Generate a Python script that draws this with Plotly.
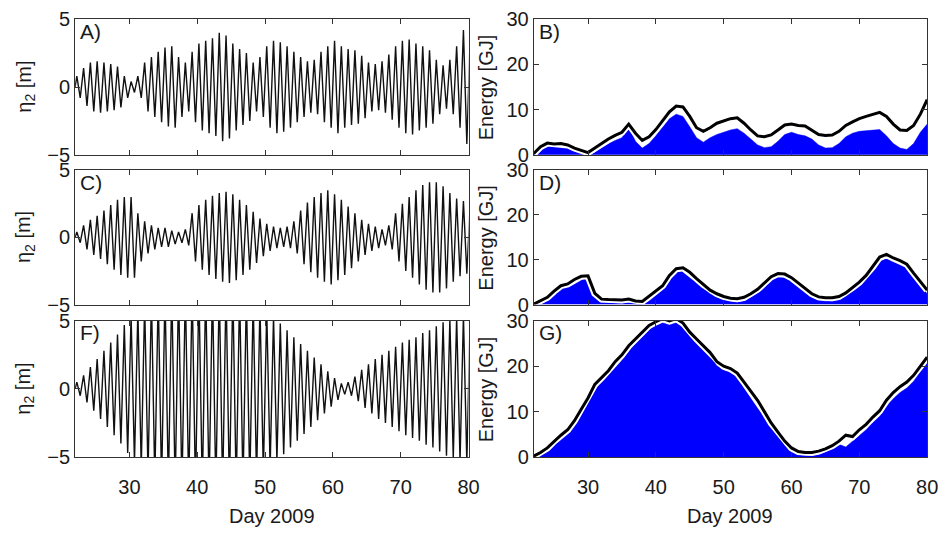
import plotly.graph_objects as go

# ---------------- data ----------------
days = list(range(22, 81))

# envelope amplitude of the tidal signal eta_2 [m], one value per day
amp_A = [0.8, 1.4, 1.8, 1.9, 1.8, 1.7, 1.5, 0.8, 0.4, 0.8,
         1.8, 2.2, 2.6, 2.9, 3.0, 2.2, 1.8, 2.6, 3.2, 3.4,
         3.6, 4.0, 3.8, 3.2, 2.8, 2.5, 1.8, 2.2, 3.0, 3.4,
         3.3, 3.0, 2.6, 2.2, 1.9, 2.0, 2.6, 3.0, 3.4, 3.0,
         2.8, 2.7, 2.3, 1.8, 1.7, 1.9, 2.4, 3.0, 3.4, 3.5,
         3.2, 3.0, 2.7, 2.0, 1.6, 2.0, 3.0, 4.2, 3.8]
amp_C = [0.4, 0.9, 1.3, 1.6, 2.0, 2.4, 2.8, 3.0, 3.0, 1.8,
         1.2, 0.9, 0.7, 0.7, 0.5, 0.4, 0.6, 1.8, 2.4, 2.8,
         3.1, 3.3, 3.4, 3.2, 2.8, 2.4, 1.9, 1.4, 1.0, 0.8,
         0.7, 0.8, 1.2, 2.0, 2.6, 3.0, 3.3, 3.5, 3.2, 2.8,
         2.3, 1.8, 1.3, 1.0, 0.8, 0.6, 0.9, 1.8, 2.5, 3.0,
         3.5, 3.9, 4.1, 4.1, 3.8, 3.3, 2.9, 2.7, 2.5]
amp_F = [0.5, 1.0, 1.6, 2.2, 2.8, 3.4, 4.0, 4.7, 5.4, 5.8,
         6.3, 6.8, 7.0, 7.2, 7.4, 7.5, 7.5, 7.5, 7.5, 7.5,
         7.5, 7.5, 7.5, 7.4, 7.2, 7.0, 6.6, 6.2, 5.8, 5.3,
         4.8, 4.3, 3.8, 3.3, 2.8, 2.3, 1.8, 1.3, 0.8, 0.4,
         0.5, 0.9, 1.4, 1.8, 2.2, 2.5, 2.8, 3.1, 3.4, 3.6,
         3.8, 4.1, 4.3, 4.6, 4.9, 5.1, 5.3, 5.4, 5.5]

# energy [GJ]: total (black line) and blue filled part, one value per day
tot_B = [0.3, 1.8, 2.6, 2.4, 2.5, 2.2, 1.5, 1.0, 0.5, 1.5,
         2.5, 3.5, 4.3, 5.0, 6.8, 4.8, 3.2, 4.0, 5.6, 7.5,
         9.5, 10.8, 10.6, 8.5, 6.0, 5.2, 6.0, 7.0, 7.5, 8.0,
         8.2, 7.0, 5.5, 4.2, 4.0, 4.4, 5.5, 6.6, 6.8, 6.5,
         6.4, 5.5, 4.5, 4.3, 4.4, 5.2, 6.5, 7.3, 8.0, 8.5,
         9.0, 9.4, 8.5, 6.8, 5.5, 5.4, 6.5, 9.0, 12.2]
blue_B = [0.2, 1.5, 2.3, 2.2, 2.2, 2.0, 1.0, 0.5, 0.0, 0.5,
          1.5, 2.5, 3.2, 3.8, 6.0, 3.0, 1.5, 2.5, 4.2, 6.0,
          8.0, 9.0, 8.5, 6.2, 3.8, 2.8, 3.8, 4.5, 5.0, 5.5,
          5.8, 4.8, 3.5, 2.2, 1.6, 1.8, 3.0, 4.5, 5.0, 4.5,
          4.2, 3.5, 2.2, 1.5, 1.6, 2.5, 4.0, 4.8, 5.2, 5.3,
          5.5, 5.6, 4.2, 2.5, 1.5, 1.2, 2.5, 5.0, 6.8]
tot_D = [0.1, 0.8, 1.6, 3.0, 4.2, 4.6, 5.6, 6.3, 6.4, 2.5,
         1.2, 1.1, 1.1, 1.0, 1.2, 0.8, 0.7, 1.8, 3.0, 4.2,
         6.5, 8.0, 8.2, 7.2, 5.8, 4.5, 3.2, 2.4, 1.8, 1.4,
         1.3, 1.6, 2.4, 3.4, 4.8, 6.2, 6.9, 6.8, 6.0, 4.8,
         3.5, 2.4, 1.7, 1.5, 1.5, 1.8, 2.6, 3.8, 5.0, 6.5,
         8.5, 10.6, 11.2, 10.4, 9.8, 9.0, 7.0, 5.0, 3.2]
blue_D = [0.0, 0.5, 1.2, 2.5, 3.6, 4.1, 5.0, 5.6, 5.8, 1.6,
          0.5, 0.4, 0.4, 0.3, 0.5, 0.2, 0.1, 1.0, 2.2, 3.5,
          5.7, 7.2, 7.5, 6.4, 5.0, 3.7, 2.4, 1.6, 1.0, 0.6,
          0.5, 0.8, 1.6, 2.6, 4.0, 5.4, 6.1, 6.0, 5.2, 4.0,
          2.7, 1.6, 0.9, 0.7, 0.7, 1.0, 1.8, 3.0, 4.2, 5.7,
          7.6, 9.6, 10.2, 9.5, 9.0, 8.2, 6.2, 4.2, 2.4]
tot_G = [0.2, 1.0, 2.0, 3.5, 4.8, 6.0, 8.0, 10.5, 13.0, 16.0,
         17.5, 19.0, 21.0, 22.5, 24.5, 26.0, 27.5, 29.0, 29.8, 30.5,
         30.0, 30.5, 29.5, 27.5, 26.0, 24.5, 23.0, 21.0, 20.0, 19.5,
         18.5, 16.5, 14.5, 12.5, 10.0, 7.5, 5.5, 3.5, 2.0, 1.2,
         1.0, 1.0, 1.3, 1.8, 2.5, 3.5, 4.8, 4.5, 6.0, 7.2,
         8.8, 10.2, 12.5, 14.2, 15.5, 16.5, 18.0, 20.0, 22.0]
blue_G = [0.0, 0.5, 1.4, 2.8, 4.0, 5.2, 7.2, 9.6, 12.0, 15.0,
          16.6, 18.1, 20.1, 21.6, 23.6, 25.1, 26.6, 28.1, 28.9, 29.6,
          29.1, 29.6, 28.6, 26.6, 25.1, 23.6, 22.1, 20.1, 19.1, 18.6,
          17.6, 15.6, 13.6, 11.6, 9.1, 6.6, 4.6, 2.6, 1.2, 0.5,
          0.3, 0.3, 0.6, 1.1, 1.8, 2.8, 2.2, 3.4, 4.8, 6.0,
          7.6, 9.0, 11.2, 12.9, 14.2, 15.2, 16.7, 18.7, 20.8]

x_ticks = [30, 40, 50, 60, 70, 80]
eta_ticks = [-5, 0, 5]
energy_ticks = [0, 10, 20, 30]
panel_labels = ["A)", "B)", "C)", "D)", "F)", "G)"]

# ---------------- figure ----------------
W, H = 952, 539
FONT = "Liberation Sans, Arial, sans-serif"
TXT = "#1a1a1a"

def tide_trace(amp):
    xs, ys = [22.0], [0.0]
    for d, a in zip(days, amp):
        xs += [d + 0.25, d + 0.75]
        ys += [a, -a]
    return xs, ys

fig = go.Figure()

left_x = [76 / W, 474 / W]
right_x = [540 / W, 938 / W]
rows_px = [(8.5, 150), (166, 306), (323, 465)]
rows = [[1 - b / H, 1 - t / H] for (t, b) in rows_px]

amps = [amp_A, amp_C, amp_F]
energies = [(tot_B, blue_B), (tot_D, blue_D), (tot_G, blue_G)]

def ax_id(i):
    return "" if i == 1 else str(i)

for r in range(3):
    li = 2 * r + 1
    ri = 2 * r + 2
    xs, ys = tide_trace(amps[r])
    fig.add_trace(go.Scatter(x=xs, y=ys, mode="lines",
                             line=dict(color="#111111", width=1.4),
                             xaxis=f"x{ax_id(li)}", yaxis=f"y{ax_id(li)}",
                             showlegend=False, hoverinfo="skip"))
    tot, blue = energies[r]
    fig.add_trace(go.Scatter(x=days, y=blue, mode="lines",
                             fill="tozeroy", fillcolor="#0000ff",
                             line=dict(color="#0000ff", width=0.5),
                             xaxis=f"x{ri}", yaxis=f"y{ri}",
                             showlegend=False, hoverinfo="skip"))
    # white halo under the black total-energy line
    fig.add_trace(go.Scatter(x=days, y=tot, mode="lines",
                             line=dict(color="white", width=7),
                             xaxis=f"x{ri}", yaxis=f"y{ri}",
                             showlegend=False, hoverinfo="skip"))
    fig.add_trace(go.Scatter(x=days, y=tot, mode="lines",
                             line=dict(color="black", width=3),
                             xaxis=f"x{ri}", yaxis=f"y{ri}",
                             showlegend=False, hoverinfo="skip"))

axis_common = dict(showline=True, linecolor="#333333", linewidth=1,
                   mirror="ticks", ticks="inside", ticklen=5,
                   tickcolor="#333333", showgrid=False, zeroline=False,
                   tickfont=dict(family=FONT, size=20, color=TXT))

layout = dict(width=W, height=H, margin=dict(l=0, r=0, t=0, b=0),
              paper_bgcolor="white", plot_bgcolor="white",
              font=dict(family=FONT, size=20, color=TXT))

for r in range(3):
    for c in range(2):
        i = 2 * r + c + 1
        xk = "xaxis" if i == 1 else f"xaxis{i}"
        yk = "yaxis" if i == 1 else f"yaxis{i}"
        layout[xk] = dict(axis_common, domain=left_x if c == 0 else right_x,
                          range=[22, 80], tickvals=x_ticks,
                          ticklabelstandoff=12,
                          showticklabels=(r == 2), anchor=f"y{ax_id(i)}")
        if c == 0:
            layout[yk] = dict(axis_common, domain=rows[r], range=[-5, 5],
                              tickvals=eta_ticks, anchor=f"x{ax_id(i)}")
        else:
            layout[yk] = dict(axis_common, domain=rows[r], range=[0, 30],
                              tickvals=energy_ticks, anchor=f"x{ax_id(i)}")

fig.update_layout(**layout)

ann = []
for i, lab in enumerate(panel_labels):
    ann.append(dict(text=lab, xref=f"x{ax_id(i+1)} domain", yref=f"y{ax_id(i+1)} domain",
                    x=0.008, y=1.01, xanchor="left", yanchor="top",
                    showarrow=False, font=dict(family=FONT, size=21, color=TXT)))
for r in range(3):
    yc = (rows[r][0] + rows[r][1]) / 2
    ann.append(dict(text="η<sub>2</sub> [m]", xref="paper", yref="paper",
                    x=25 / W, y=yc, textangle=-90, showarrow=False,
                    xanchor="center", yanchor="middle",
                    font=dict(family=FONT, size=20, color=TXT)))
    ann.append(dict(text="Energy [GJ]", xref="paper", yref="paper",
                    x=492 / W, y=yc, textangle=-90, showarrow=False,
                    xanchor="center", yanchor="middle",
                    font=dict(family=FONT, size=20, color=TXT)))
for dom in (left_x, right_x):
    ann.append(dict(text="Day 2009", xref="paper", yref="paper",
                    x=(dom[0] + dom[1]) / 2, y=1 - 526 / H, showarrow=False,
                    xanchor="center", yanchor="middle",
                    font=dict(family=FONT, size=20, color=TXT)))
fig.update_layout(annotations=ann)

fig.write_html("out.html",
               post_script="document.body.style.margin='0';"
                           "document.body.style.overflow='hidden';")
